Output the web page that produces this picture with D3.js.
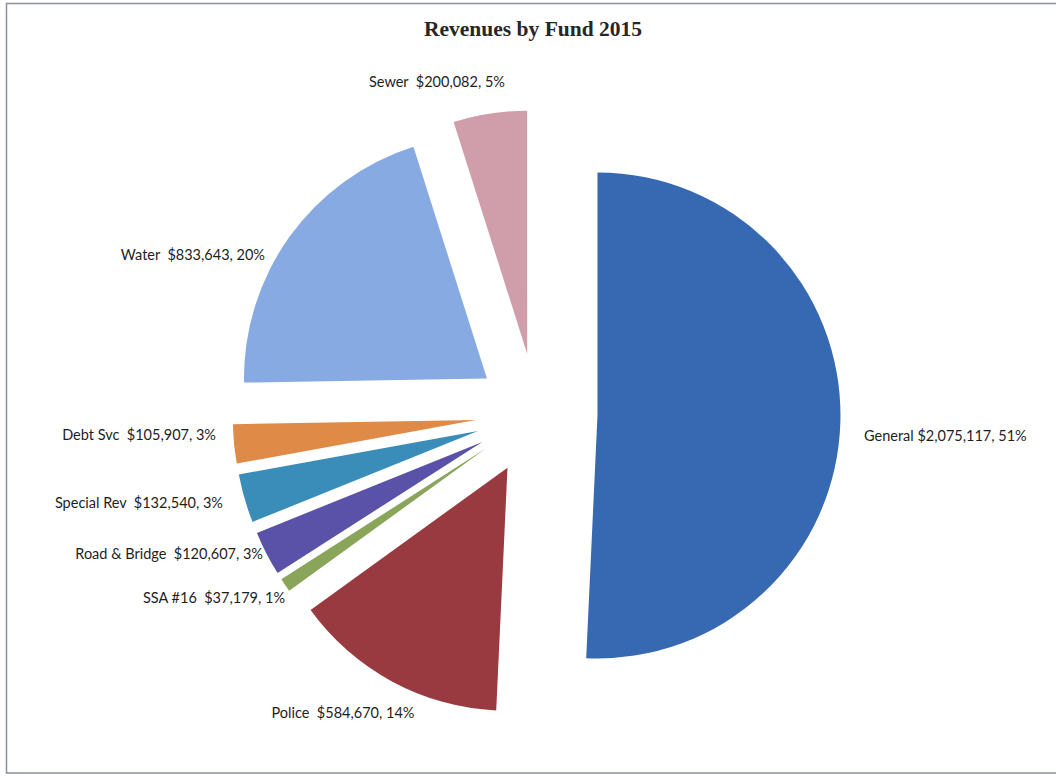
<!DOCTYPE html>
<html>
<head>
<meta charset="utf-8">
<script src="https://cdn.jsdelivr.net/npm/d3@7"></script>
<style>
	body { margin: 0; background: #fff; }
	text { font-family: Lato, "Open Sans", sans-serif; }
</style>
</head>
<body>
<div id="chart"></div>
<script>

///////////////////////////////////////////////////////////////////////////
//////////////////////////////// Data /////////////////////////////////////
///////////////////////////////////////////////////////////////////////////

var funds = ["General", "Police", "SSA #16", "Road & Bridge", "Special Rev", "Debt Svc", "Water", "Sewer"];
var revenues = [2075117, 584670, 37179, 120607, 132540, 105907, 833643, 200082];

//Slice colours, same order as the funds
var colors = ["#3769b3", "#983a40", "#88a55a", "#5a52a8", "#3a8db8", "#e08a48", "#87aae2", "#d09dab"];

//Where Excel put each data label: [x, y, anchor]
var labelLayout = [
	[864, 441, "start"],
	[343, 718, "middle"],
	[285, 603, "end"],
	[263, 559, "end"],
	[223, 508, "end"],
	[216, 440, "end"],
	[265, 260, "end"],
	[437, 87, "middle"]
];

///////////////////////////////////////////////////////////////////////////
//////////////////////////// Set up the svg ///////////////////////////////
///////////////////////////////////////////////////////////////////////////

var width = 1056,
	height = 776;

var svg = d3.select("#chart")
	.append("svg")
	.attr("width", width)
	.attr("height", height);

//Chart frame
svg.append("rect")
	.attr("x", 6.5)
	.attr("y", 3.5)
	.attr("width", width + 10)
	.attr("height", 769.5)
	.style("fill", "none")
	.style("stroke", "#8c909c")
	.style("stroke-width", 1.5);

//Title
svg.append("text")
	.attr("x", 533)
	.attr("y", 36)
	.style("text-anchor", "middle")
	.style("font-family", "'Liberation Serif', 'Times New Roman', serif")
	.style("font-weight", "bold")
	.style("font-size", "21.5px")
	.style("fill", "#262626")
	.text("Revenues by Fund 2015");

///////////////////////////////////////////////////////////////////////////
//////////////////////////// Exploded pie /////////////////////////////////
///////////////////////////////////////////////////////////////////////////

var radius = 243,
	explode = 61;

var total = d3.sum(revenues);

var data = funds.map(function(d,i) { return { fund: d, value: revenues[i], i: i }; });

var pie = d3.pie()
	.sort(null)
	.value(function(d) { return d.value; });

var arc = d3.arc()
	.innerRadius(0)
	.outerRadius(radius);

var pieWrapper = svg.append("g")
	.attr("transform", "translate(536.5,414)");

//Every slice is pulled out along its own middle angle
pieWrapper.selectAll(".slice")
	.data(pie(data))
	.enter().append("path")
	.attr("class", "slice")
	.attr("transform", function(d) {
		var a = (d.startAngle + d.endAngle) / 2;
		return "translate(" + (Math.sin(a) * explode) + "," + (-Math.cos(a) * explode) + ")";
	})
	.attr("d", arc)
	.style("fill", function(d) { return colors[d.data.i]; });

///////////////////////////////////////////////////////////////////////////
//////////////////////////////// Labels ///////////////////////////////////
///////////////////////////////////////////////////////////////////////////

var fmtMoney = d3.format("$,"),
	fmtPct = d3.format(".0%");

svg.selectAll(".label")
	.data(data)
	.enter().append("text")
	.attr("class", "label")
	.attr("x", function(d) { return labelLayout[d.i][0]; })
	.attr("y", function(d) { return labelLayout[d.i][1]; })
	.style("text-anchor", function(d) { return labelLayout[d.i][2]; })
	.style("white-space", "pre")
	.style("font-size", "14.5px")
	.style("fill", "#1e1e1e")
	.text(function(d) {
		var gap = d.fund === "General" ? " " : "  ";
		return d.fund + gap + fmtMoney(d.value) + ", " + fmtPct(d.value / total);
	});

</script>
</body>
</html>
